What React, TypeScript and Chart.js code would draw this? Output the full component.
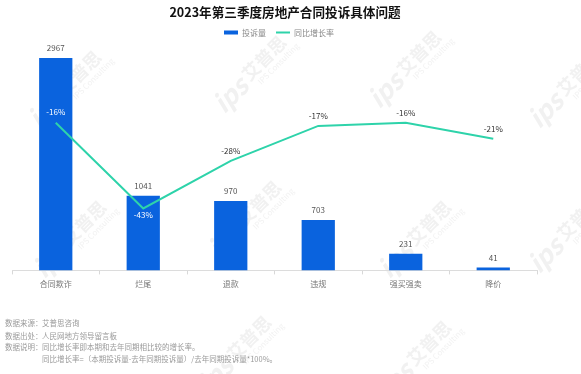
import React, { useEffect, useRef } from "react";
import { Chart, registerables } from "chart.js";

Chart.register(...registerables);

const categories = ["合同欺诈", "烂尾", "退款", "违规", "强买强卖", "降价"];
const complaints = [2967, 1041, 970, 703, 231, 41];
const growth = [-16, -43, -28, -17, -16, -21];
const titleText = "2023年第三季度房地产合同投诉具体问题";
const seriesNames = ["投诉量", "同比增长率"];
const footLabels = ["数据来源：", "数据出处：", "数据说明：", ""];
const footTexts = [
  "艾普思咨询",
  "人民网地方领导留言板",
  "同比增长率即本期和去年同期相比较的增长率。",
  "同比增长率=（本期投诉量-去年同期投诉量）/去年同期投诉量*100%。",
];

const BAR_COLOR = "#0a63de";
const LINE_COLOR = "#2ed3aa";
const FONT = "'Noto Sans CJK SC', 'Noto Sans', sans-serif";

const watermarkPlugin = {
  id: "watermark",
  beforeDraw(chart: any) {
    const ctx = chart.ctx;
    const spots = [
      [60, 95], [245, 80], [400, 75], [560, 95],
      [65, 245], [240, 225], [410, 245], [560, 240],
      [230, 360], [410, 365],
    ];
    ctx.save();
    for (const [x, y] of spots) {
      ctx.save();
      ctx.translate(x, y);
      ctx.rotate(-Math.PI / 4);
      ctx.fillStyle = "rgba(200,200,200,0.25)";
      ctx.font = `bold italic 26px ${FONT}`;
      ctx.textAlign = "right";
      ctx.textBaseline = "middle";
      ctx.fillText("ips", -2, 0);
      ctx.font = `bold 18px ${FONT}`;
      ctx.textAlign = "left";
      ctx.fillText("艾普思", 2, -2);
      ctx.font = `8px ${FONT}`;
      ctx.fillText("IPS Consulting", 8, 12);
      ctx.restore();
    }
    ctx.restore();
  },
};

const legendSpacePlugin = {
  id: "legendSpace",
  afterInit(chart: any) {
    const lg = chart.legend;
    if (!lg) return;
    const origFit = lg.fit.bind(lg);
    lg.fit = function () {
      origFit();
      this.height += 9;
    };
    const origDraw = lg.draw.bind(lg);
    lg.draw = function (area: any) {
      const ctx = chart.ctx;
      ctx.save();
      ctx.translate(-6, 0);
      origDraw(area);
      ctx.restore();
    };
  },
};

const labelPlugin = {
  id: "valueLabels",
  afterDatasetsDraw(chart: any) {
    const ctx = chart.ctx;
    ctx.save();
    ctx.textAlign = "center";
    const barMeta = chart.getDatasetMeta(0);
    ctx.font = `8px ${FONT}`;
    ctx.fillStyle = "#555";
    ctx.textBaseline = "bottom";
    barMeta.data.forEach((el: any, i: number) => {
      ctx.fillText(String(complaints[i]), el.x, el.y - 6);
    });
    const lineMeta = chart.getDatasetMeta(1);
    lineMeta.data.forEach((el: any, i: number) => {
      const txt = `${growth[i]}%`;
      const bar = barMeta.data[i];
      const inside = el.y > bar.y - 2;
      if (inside) {
        ctx.fillStyle = "#ffffff";
        if (i === 1) {
          ctx.textBaseline = "top";
          ctx.fillText(txt, el.x, el.y + 2);
        } else {
          ctx.textBaseline = "bottom";
          ctx.fillText(txt, el.x, el.y - 7);
        }
      } else {
        ctx.fillStyle = "#333";
        ctx.textBaseline = "bottom";
        ctx.fillText(txt, el.x, el.y - 6);
      }
    });
    ctx.restore();
  },
};

const footPlugin = {
  id: "footnotes",
  afterDraw(chart: any) {
    const ctx = chart.ctx;
    ctx.save();
    ctx.font = `7.5px ${FONT}`;
    ctx.fillStyle = "#9a9a9a";
    ctx.textBaseline = "middle";
    ctx.textAlign = "left";
    const ys = [323, 336, 347, 359];
    footTexts.forEach((t, i) => {
      if (footLabels[i]) ctx.fillText(footLabels[i], 5, ys[i]);
      ctx.fillText(t, 42, ys[i]);
    });
    ctx.restore();
  },
};

export default function App() {
  const ref = useRef<HTMLCanvasElement>(null);
  useEffect(() => {
    if (!ref.current) return;
    const chart = new Chart(ref.current, {
      data: {
        labels: categories,
        datasets: [
          {
            type: "bar",
            label: seriesNames[0],
            data: complaints,
            backgroundColor: BAR_COLOR,
            yAxisID: "y",
            barPercentage: 0.38,
            categoryPercentage: 1,
            order: 2,
          },
          {
            type: "line",
            label: seriesNames[1],
            data: growth,
            borderColor: LINE_COLOR,
            backgroundColor: LINE_COLOR,
            borderWidth: 2,
            pointRadius: 0,
            tension: 0,
            yAxisID: "y1",
            order: 1,
          },
        ] as any,
      },
      options: {
        responsive: false,
        animation: false,
        layout: { padding: { left: 12, right: 23, top: 0, bottom: 80 } },
        plugins: {
          tooltip: { enabled: false },
          title: {
            display: true,
            text: titleText,
            color: "#111",
            font: { size: 12.6, weight: "bold", family: FONT },
            padding: { top: 5, bottom: -1.5 },
          },
          legend: {
            display: true,
            labels: {
              color: "#888",
              font: { size: 8, family: FONT },
              usePointStyle: true,
              boxHeight: 4,
              pointStyleWidth: 14,
              padding: 10,
              generateLabels: () => [
                {
                  text: seriesNames[0],
                  fillStyle: BAR_COLOR,
                  strokeStyle: BAR_COLOR,
                  lineWidth: 0,
                  pointStyle: "rect",
                  datasetIndex: 0,
                  fontColor: "#888",
                } as any,
                {
                  text: seriesNames[1],
                  fillStyle: LINE_COLOR,
                  strokeStyle: LINE_COLOR,
                  lineWidth: 2,
                  pointStyle: "line",
                  datasetIndex: 1,
                  fontColor: "#888",
                } as any,
              ],
            },
          },
        },
        scales: {
          x: {
            offset: true,
            grid: {
              offset: true,
              drawOnChartArea: false,
              drawTicks: true,
              tickLength: 4,
              color: "#d8d8d8",
            },
            border: { display: true, color: "#dcdcdc" },
            ticks: {
              color: "#777",
              font: { size: 8, family: FONT },
              padding: 5,
            },
          },
          y: { display: false, min: 0, max: 3000 },
          y1: {
            display: true,
            min: -62.5,
            max: 5.15,
            position: "right",
            ticks: { display: false },
            grid: { display: false, drawTicks: false },
            border: { display: false },
            afterFit: (s: any) => {
              s.width = 21;
            },
          },
        },
      } as any,
      plugins: [legendSpacePlugin, watermarkPlugin, labelPlugin, footPlugin],
    });
    return () => chart.destroy();
  }, []);
  return (
    <div style={{ position: "absolute", left: 0, top: 0, width: 581, height: 374, background: "#fff" }}>
      <canvas ref={ref} width={581} height={374} style={{ width: 581, height: 374, display: "block" }} />
    </div>
  );
}
